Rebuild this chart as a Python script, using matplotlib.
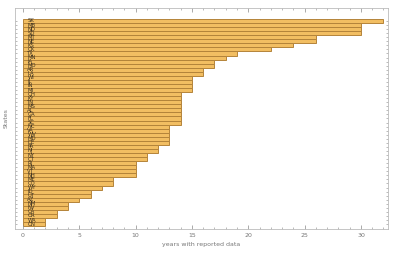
import matplotlib
matplotlib.use("Agg")
import matplotlib.pyplot as plt
from matplotlib.ticker import MultipleLocator

# Data (top bar first)
regions = ["SK", "MB", "ND", "SD", "MT", "NE", "KS", "OK", "TX", "MN",
           "IA", "MO", "AR", "LA", "WI", "IL", "IN", "MI", "OH", "KY",
           "TN", "MS", "AL", "GA", "FL", "SC", "NC", "VA", "WV", "MD",
           "DE", "PA", "NJ", "NY", "CT", "RI", "MA", "VT", "NH", "ME",
           "CO", "WY", "ID", "UT", "AZ", "NM", "NV", "CA", "OR", "WA", "ON"]
years = [32, 30, 30, 30, 26, 26, 24, 22, 19, 18,
         17, 17, 16, 16, 15, 15, 15, 15, 14, 14,
         14, 14, 14, 14, 14, 14, 13, 13, 13, 13,
         13, 12, 12, 11, 11, 10, 10, 10, 10, 8,
         8, 7, 6, 6, 5, 4, 4, 3, 3, 2, 2]
x_ticks = [0, 5, 10, 15, 20, 25, 30]

n = len(regions)
ypos = [n - 1 - i for i in range(n)]

fig = plt.figure(figsize=(4.0, 2.57), dpi=100)
ax = fig.add_axes([0.0375, 0.109, 0.9325, 0.86])

ax.barh(ypos, years, height=1.0, left=0, color="#F2BE62",
        edgecolor="#B4843A", linewidth=0.7)

for y, lab in zip(ypos, regions):
    ax.text(0.4, y, lab, fontsize=3.8, color="#3a3020",
            va="center", ha="left")

ax.set_xlim(-0.7, 32.4)
ax.set_ylim(-1.2, n + 2.2)
ax.set_xticks(x_ticks)
ax.xaxis.set_minor_locator(MultipleLocator(1))
ax.set_yticks(ypos)
ax.set_yticklabels([])

ax.tick_params(axis="x", which="major", direction="in", length=3, width=0.5,
               color="#888888", labelsize=4.5, labelcolor="#777777",
               top=True, pad=3)
ax.tick_params(axis="x", which="minor", direction="in", length=1.5, width=0.4,
               color="#888888", top=True)
ax.tick_params(axis="y", which="major", direction="in", length=1.5, width=0.4,
               color="#888888", right=True)

for s in ax.spines.values():
    s.set_color("#bbbbbb")
    s.set_linewidth(0.6)

ax.set_xlabel("years with reported data", fontsize=4.5, color="#777777", labelpad=3)
ax.set_ylabel("States", fontsize=4.5, color="#777777", labelpad=1)

fig.savefig("out.png", dpi=100)
